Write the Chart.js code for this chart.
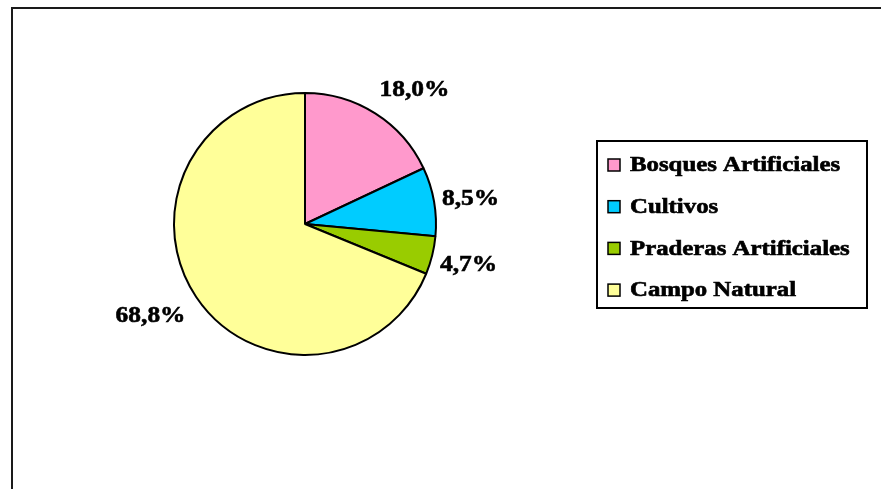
<!DOCTYPE html>
<html>
<head>
<meta charset="utf-8">
<script src="https://cdn.jsdelivr.net/npm/chart.js@4.4.1/dist/chart.umd.min.js"></script>
<style>
    html, body { margin: 0; padding: 0; background: #fff; overflow: hidden; }
    #frame {
        position: absolute; left: 11px; top: 7px;
        width: 900px; height: 600px;
        border: 2px solid #1a1a1a;
    }
    #pieChart { position: absolute; left: 0; top: 0; }
</style>
</head>
<body>
<div id="frame"></div>
<canvas id="pieChart" width="881" height="489"></canvas>
<script>
const labels = ['Bosques Artificiales', 'Cultivos', 'Praderas Artificiales', 'Campo Natural'];
const values = [18.0, 8.5, 4.7, 68.8];
const colors = ['#FF99CC', '#00CCFF', '#99CC00', '#FFFF99'];

const SERIF = '"Liberation Serif", "Times New Roman", serif';

// text stretched a bit sideways and thickened, like the old Excel export
function wideText(ctx, text, x, y, sx) {
    ctx.save();
    ctx.translate(x, y);
    ctx.scale(sx, 1);
    ctx.fillText(text, 0, 0);
    ctx.strokeStyle = ctx.fillStyle;
    ctx.lineWidth = 0.6;
    ctx.strokeText(text, 0, 0);
    ctx.restore();
}

// percentage labels next to each slice
const sliceLabels = {
    id: 'sliceLabels',
    afterDatasetsDraw(chart) {
        const ctx = chart.ctx;
        const meta = chart.getDatasetMeta(0);
        ctx.save();
        ctx.font = 'bold 24px ' + SERIF;
        ctx.fillStyle = '#000';
        ctx.textBaseline = 'middle';
        meta.data.forEach((arc, i) => {
            const p = arc.getProps(['x', 'y', 'startAngle', 'endAngle', 'outerRadius'], true);
            const mid = (p.startAngle + p.endAngle) / 2;
            const ux = Math.cos(mid), uy = Math.sin(mid);
            const r = p.outerRadius + 8;
            const ax = p.x + ux * r + (ux < 0 ? -4 : 0);
            const ay = p.y + uy * r + uy * 22 + 2;
            ctx.textAlign = ux >= 0 ? 'left' : 'right';
            wideText(ctx, values[i].toFixed(1).replace('.', ',') + '%', ax, ay, 1.06);
        });
        ctx.restore();
    }
};

// boxed legend on the right
const boxLegend = {
    id: 'boxLegend',
    afterDraw(chart) {
        const ctx = chart.ctx;
        const left = 597, top = 141, w = 270, h = 167;
        ctx.save();
        ctx.strokeStyle = '#000';
        ctx.lineWidth = 2;
        ctx.strokeRect(left, top, w, h);
        ctx.font = 'bold 20px ' + SERIF;
        ctx.textBaseline = 'middle';
        ctx.textAlign = 'left';
        const step = 41.7;
        labels.forEach((lab, i) => {
            const y = top + 24 + i * step;
            ctx.fillStyle = colors[i];
            ctx.fillRect(608, y - 6, 12, 12);
            ctx.strokeStyle = '#000';
            ctx.lineWidth = 1.5;
            ctx.strokeRect(608, y - 6, 12, 12);
            ctx.fillStyle = '#000';
            wideText(ctx, lab, 630, y + 1, 1.24);
        });
        ctx.restore();
    }
};

new Chart(document.getElementById('pieChart'), {
    type: 'pie',
    data: {
        labels: labels,
        datasets: [{
            data: values,
            backgroundColor: colors,
            borderColor: '#000',
            borderWidth: 2
        }]
    },
    options: {
        responsive: false,
        animation: false,
        layout: { padding: { left: 173, top: 92, right: 444, bottom: 133 } },
        plugins: {
            legend: { display: false },
            tooltip: { enabled: false }
        }
    },
    plugins: [sliceLabels, boxLegend]
});
</script>
</body>
</html>
